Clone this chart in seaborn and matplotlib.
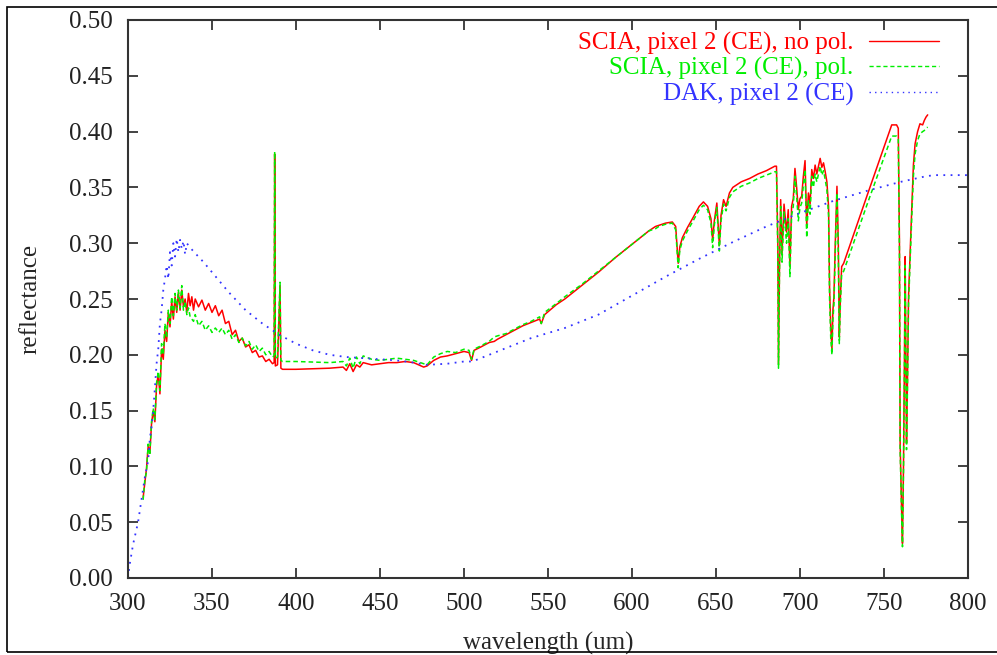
import matplotlib
matplotlib.use("Agg")
import matplotlib.pyplot as plt
import seaborn as sns
import pandas as pd
from matplotlib.patches import Rectangle

# ---------------- data ----------------
red_wl = [309, 310, 311, 312, 313, 314, 315, 316, 317, 318, 319, 320, 321, 322, 323, 324, 325, 326, 327, 328,
          329, 330, 331, 332, 333, 334, 335, 336, 337, 338, 339, 340, 342, 344, 346, 348, 350, 352, 354, 356,
          358, 360, 362, 364, 366, 368, 370, 372, 374, 376, 378, 380, 382, 384, 386, 387, 387.3, 387.7, 389,
          390.5, 391, 392, 400, 420, 428, 430, 432, 434, 436, 438, 440, 445, 450, 455, 460, 465, 470, 476,
          478, 482, 486, 490, 495, 500, 503, 504.5, 506, 510, 515, 518, 520, 525, 530, 535, 540, 545, 546,
          548, 555, 560, 570, 580, 590, 600, 610, 614, 616, 620, 624, 626, 627.5, 628.5, 630, 633, 636, 640,
          642.5, 645, 647, 648, 649, 650.5, 652, 653, 654.5, 656, 658, 660, 665, 670, 675, 680, 685, 686,
          686.8, 687.2, 687.8, 688.5, 689.3, 690.5, 692, 693, 694, 695, 696, 697, 698, 699, 700, 701, 702,
          703, 704, 705, 706, 707, 708, 709, 710, 712, 713, 714, 715, 716, 717, 717.6, 718.3, 719, 719.6,
          720.2, 721, 722, 722.8, 723.4, 724, 724.8, 726, 740, 754.6, 757.5, 758.5, 759.2, 759.6, 760.5,
          761, 761.6, 762.2, 762.6, 763, 763.4, 764, 764.6, 765.5, 766.5, 767.5, 768.5, 770, 771.4, 773,
          774, 775, 776]
red_refl = [0.072, 0.085, 0.098, 0.118, 0.112, 0.138, 0.150, 0.140, 0.172, 0.183, 0.165, 0.205, 0.196, 0.222,
            0.212, 0.238, 0.225, 0.248, 0.232, 0.252, 0.238, 0.256, 0.240, 0.258, 0.243, 0.250, 0.238, 0.255,
            0.244, 0.252, 0.240, 0.250, 0.243, 0.249, 0.240, 0.246, 0.238, 0.244, 0.235, 0.240, 0.228, 0.230,
            0.218, 0.222, 0.212, 0.215, 0.207, 0.209, 0.202, 0.204, 0.198, 0.199, 0.194, 0.196, 0.192, 0.193,
            0.380, 0.190, 0.191, 0.262, 0.188, 0.187, 0.187, 0.188, 0.189, 0.186, 0.192, 0.185, 0.191, 0.189,
            0.193, 0.191, 0.192, 0.193, 0.193, 0.194, 0.193, 0.189, 0.190, 0.195, 0.198, 0.199, 0.201, 0.203,
            0.202, 0.195, 0.204, 0.207, 0.211, 0.212, 0.214, 0.218, 0.222, 0.226, 0.229, 0.232, 0.228, 0.236,
            0.245, 0.250, 0.262, 0.274, 0.287, 0.299, 0.311, 0.315, 0.316, 0.318, 0.319, 0.315, 0.282, 0.297,
            0.305, 0.314, 0.322, 0.333, 0.337, 0.333, 0.322, 0.303, 0.320, 0.336, 0.298, 0.325, 0.339, 0.333,
            0.345, 0.350, 0.355, 0.358, 0.362, 0.365, 0.369, 0.369, 0.300, 0.192, 0.280, 0.339, 0.291, 0.335,
            0.310, 0.330, 0.279, 0.333, 0.340, 0.367, 0.350, 0.330, 0.340, 0.342, 0.360, 0.374, 0.315, 0.345,
            0.335, 0.366, 0.358, 0.370, 0.362, 0.376, 0.368, 0.372, 0.364, 0.355, 0.333, 0.260, 0.225, 0.205,
            0.240, 0.252, 0.300, 0.351, 0.300, 0.216, 0.250, 0.279, 0.282, 0.343, 0.406, 0.406, 0.403, 0.300,
            0.121, 0.060, 0.031, 0.100, 0.200, 0.288, 0.200, 0.121, 0.180, 0.252, 0.290, 0.330, 0.370, 0.389,
            0.400, 0.407, 0.406, 0.410, 0.413, 0.415]

green_wl = red_wl
green_refl = [0.070, 0.088, 0.095, 0.120, 0.110, 0.140, 0.152, 0.142, 0.175, 0.185, 0.168, 0.210, 0.200, 0.228,
              0.215, 0.240, 0.228, 0.252, 0.235, 0.255, 0.240, 0.258, 0.242, 0.262, 0.240, 0.248, 0.236, 0.242,
              0.234, 0.232, 0.230, 0.236, 0.226, 0.230, 0.222, 0.226, 0.220, 0.224, 0.220, 0.224, 0.218, 0.222,
              0.214, 0.218, 0.211, 0.215, 0.208, 0.212, 0.205, 0.209, 0.203, 0.206, 0.200, 0.203, 0.198, 0.199,
              0.382, 0.197, 0.198, 0.265, 0.195, 0.194, 0.194, 0.193, 0.194, 0.190, 0.197, 0.188, 0.198, 0.192,
              0.199, 0.196, 0.195, 0.196, 0.197, 0.196, 0.195, 0.192, 0.191, 0.198, 0.201, 0.203, 0.202, 0.205,
              0.204, 0.196, 0.205, 0.208, 0.212, 0.216, 0.217, 0.219, 0.223, 0.227, 0.230, 0.234, 0.228, 0.238,
              0.246, 0.252, 0.263, 0.275, 0.287, 0.299, 0.311, 0.313, 0.315, 0.317, 0.318, 0.312, 0.278, 0.294,
              0.302, 0.311, 0.319, 0.330, 0.334, 0.330, 0.318, 0.296, 0.316, 0.332, 0.293, 0.320, 0.335, 0.329,
              0.341, 0.346, 0.351, 0.354, 0.358, 0.361, 0.364, 0.364, 0.290, 0.188, 0.275, 0.333, 0.283, 0.328,
              0.300, 0.322, 0.270, 0.325, 0.333, 0.360, 0.342, 0.320, 0.332, 0.336, 0.352, 0.366, 0.305, 0.338,
              0.326, 0.360, 0.350, 0.362, 0.355, 0.369, 0.361, 0.365, 0.357, 0.348, 0.325, 0.250, 0.215, 0.200,
              0.232, 0.245, 0.292, 0.345, 0.292, 0.210, 0.243, 0.272, 0.275, 0.335, 0.396, 0.396, 0.393, 0.290,
              0.115, 0.055, 0.028, 0.095, 0.195, 0.280, 0.195, 0.115, 0.172, 0.245, 0.282, 0.322, 0.360, 0.380,
              0.392, 0.398, 0.400, 0.401, 0.403, 0.404]

blue_wl = [300, 301, 303, 306, 308, 310, 312, 313, 314, 315, 316, 317, 318, 319, 320, 321, 322, 323, 324, 325,
           326, 327, 328, 329, 330, 331, 332, 333, 334, 335, 337, 340, 345, 350, 355, 360, 365, 370, 375, 380,
           385, 390, 395, 400, 410, 420, 430, 440, 450, 460, 470, 478, 490, 500, 505, 510, 520, 530, 540, 560,
           580, 600, 620, 640, 660, 680, 700, 720, 740, 760, 775, 780, 800]
blue_refl = [0.000, 0.012, 0.030, 0.050, 0.070, 0.090, 0.105, 0.125, 0.135, 0.150, 0.170, 0.192, 0.205, 0.228,
             0.240, 0.258, 0.268, 0.280, 0.268, 0.292, 0.280, 0.300, 0.288, 0.304, 0.292, 0.303, 0.295, 0.302,
             0.290, 0.300, 0.296, 0.291, 0.283, 0.274, 0.265, 0.256, 0.248, 0.240, 0.234, 0.228, 0.223, 0.218,
             0.214, 0.210, 0.204, 0.200, 0.198, 0.197, 0.196, 0.195, 0.193, 0.191, 0.192, 0.194, 0.194, 0.197,
             0.203, 0.209, 0.215, 0.224, 0.236, 0.253, 0.270, 0.286, 0.301, 0.315, 0.327, 0.338, 0.347, 0.355,
             0.360, 0.361, 0.361]

labels = ["SCIA, pixel 2 (CE), no pol.", "SCIA, pixel 2 (CE), pol.", "DAK, pixel 2 (CE)"]
x_ticks = [300, 350, 400, 450, 500, 550, 600, 650, 700, 750, 800]
y_ticks = [0.00, 0.05, 0.10, 0.15, 0.20, 0.25, 0.30, 0.35, 0.40, 0.45, 0.50]

# ---------------- plot ----------------
sns.set_style("ticks")
plt.rcParams["font.family"] = ["Liberation Serif", "DejaVu Serif"]

fig = plt.figure(figsize=(9.97, 6.55), dpi=100)
ax = fig.add_axes([128 / 997, 1 - 578 / 655, 840 / 997, 558 / 655])

df_r = pd.DataFrame({"wl": red_wl, "refl": red_refl})
df_g = pd.DataFrame({"wl": green_wl, "refl": green_refl})
df_b = pd.DataFrame({"wl": blue_wl, "refl": blue_refl})

sns.lineplot(data=df_r, x="wl", y="refl", ax=ax, color="#ff0000", lw=1.1,
             sort=False, estimator=None, label=labels[0])
sns.lineplot(data=df_g, x="wl", y="refl", ax=ax, color="#00ee00", lw=1.1,
             sort=False, estimator=None, label=labels[1], linestyle=(0, (3, 2)))
sns.lineplot(data=df_b, x="wl", y="refl", ax=ax, color="#3333ff", lw=1.3,
             sort=False, estimator=None, label=labels[2], linestyle=(0, (1, 3)))

ax.set_xlim(300, 800)
ax.set_ylim(0, 0.5)
ax.set_xticks(x_ticks)
ax.set_yticks(y_ticks)
ax.set_xticklabels([str(t) for t in x_ticks])
ax.set_yticklabels([f"{t:.2f}" for t in y_ticks])
ax.tick_params(direction="in", length=7, width=1.2, top=True, right=True,
               labelsize=18, colors="#222222", pad=11)
for s in ax.spines.values():
    s.set_visible(True)
    s.set_linewidth(1.5)
    s.set_color("#333333")

ax.set_xlabel("wavelength (um)", fontsize=18, labelpad=12)
ax.set_ylabel("reflectance", fontsize=18, labelpad=20)

leg = ax.legend(loc="upper right", bbox_to_anchor=(0.966, 0.979), frameon=False,
                markerfirst=False, labelcolor="linecolor", fontsize=18,
                handlelength=2.8, handletextpad=0.64, labelspacing=0.1,
                borderpad=0, borderaxespad=0)
for h in leg.get_lines():
    h.set_linewidth(1.0)

fig.patches.append(Rectangle((7 / 997, 3 / 655), 1.0, 645 / 655, transform=fig.transFigure,
                             fill=False, edgecolor="black", linewidth=1.2))

fig.savefig("out.png", dpi=100)
